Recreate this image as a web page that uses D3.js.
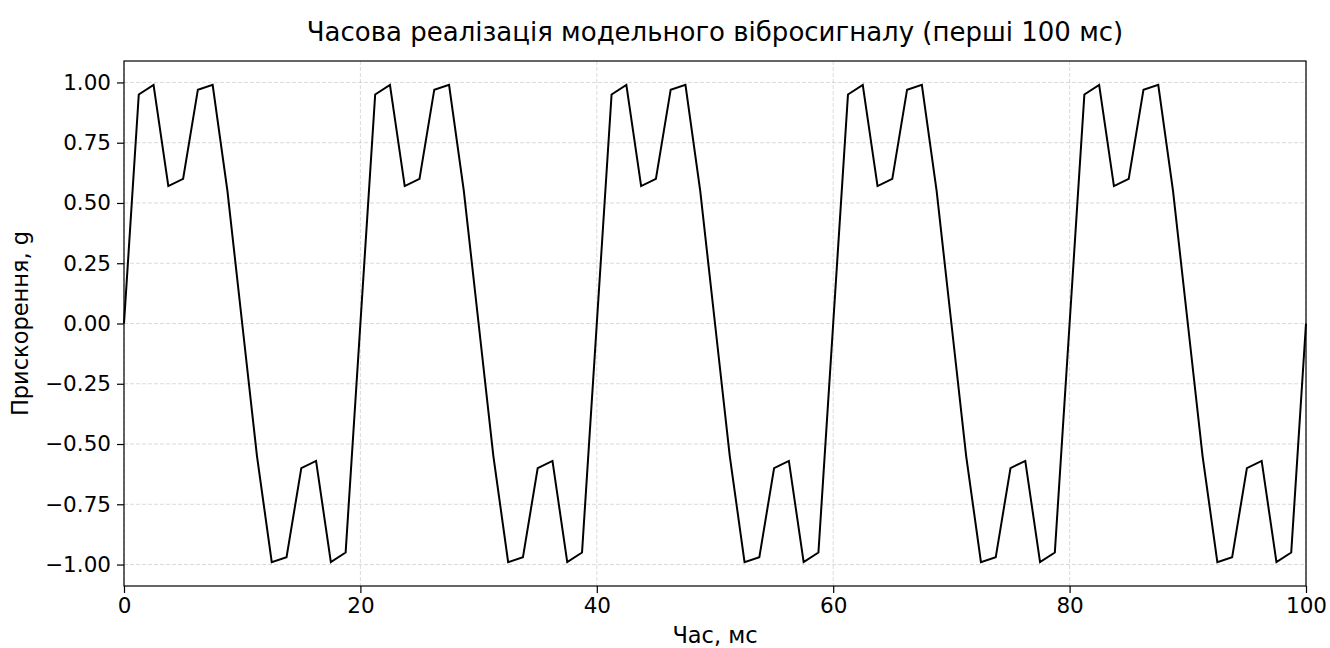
<!DOCTYPE html>
<html lang="uk">
<head>
  <meta charset="UTF-8">
  <title>Часова реалізація модельного вібросигналу</title>
  <script src="https://cdn.jsdelivr.net/npm/d3@7.8.5/dist/d3.min.js"></script>
  <style>
    body { margin: 0; background: #fff; font-family: 'DejaVu Sans', sans-serif; }
    svg text { fill: #000; }
  </style>
</head>
<body>
  <svg id="chart"></svg>
  <script>
    // sample times, ms
    const timeMs = [
      0, 1.25, 2.5, 3.75, 5, 6.25, 7.5, 8.75, 10, 11.25, 12.5, 13.75, 15, 16.25, 17.5, 18.75,
      20, 21.25, 22.5, 23.75, 25, 26.25, 27.5, 28.75, 30, 31.25, 32.5, 33.75, 35, 36.25, 37.5, 38.75,
      40, 41.25, 42.5, 43.75, 45, 46.25, 47.5, 48.75, 50, 51.25, 52.5, 53.75, 55, 56.25, 57.5, 58.75,
      60, 61.25, 62.5, 63.75, 65, 66.25, 67.5, 68.75, 70, 71.25, 72.5, 73.75, 75, 76.25, 77.5, 78.75,
      80, 81.25, 82.5, 83.75, 85, 86.25, 87.5, 88.75, 90, 91.25, 92.5, 93.75, 95, 96.25, 97.5, 98.75,
      100
    ];
    // acceleration, g
    const accelG = [
      0, 0.95, 0.99, 0.57, 0.60, 0.97, 0.99, 0.55, 0, -0.55, -0.99, -0.97, -0.60, -0.57, -0.99, -0.95,
      0, 0.95, 0.99, 0.57, 0.60, 0.97, 0.99, 0.55, 0, -0.55, -0.99, -0.97, -0.60, -0.57, -0.99, -0.95,
      0, 0.95, 0.99, 0.57, 0.60, 0.97, 0.99, 0.55, 0, -0.55, -0.99, -0.97, -0.60, -0.57, -0.99, -0.95,
      0, 0.95, 0.99, 0.57, 0.60, 0.97, 0.99, 0.55, 0, -0.55, -0.99, -0.97, -0.60, -0.57, -0.99, -0.95,
      0, 0.95, 0.99, 0.57, 0.60, 0.97, 0.99, 0.55, 0, -0.55, -0.99, -0.97, -0.60, -0.57, -0.99, -0.95,
      0
    ];
    const xTicks = [0, 20, 40, 60, 80, 100];
    const yTicks = [-1.0, -0.75, -0.5, -0.25, 0, 0.25, 0.5, 0.75, 1.0];

    const width = 1330, height = 648;
    const margin = { top: 61, right: 24, bottom: 62, left: 124 };
    const w = width - margin.left - margin.right;
    const h = height - margin.top - margin.bottom;

    const svg = d3.select("#chart").attr("width", width).attr("height", height);
    const g = svg.append("g").attr("transform", `translate(${margin.left},${margin.top})`);

    const x = d3.scaleLinear().domain([0, 100]).range([0, w]);
    const y = d3.scaleLinear().domain([-1.089, 1.089]).range([h, 0]);

    const fmtY = v => d3.format(".2f")(v).replace("-", "\u2212");

    // grid
    g.append("g").selectAll("line").data(xTicks).enter().append("line")
      .attr("x1", d => x(d)).attr("x2", d => x(d)).attr("y1", 0).attr("y2", h)
      .attr("stroke", "#b0b0b0").attr("stroke-opacity", 0.6)
      .attr("stroke-width", 0.8).attr("stroke-dasharray", "4,2");
    g.append("g").selectAll("line").data(yTicks).enter().append("line")
      .attr("x1", 0).attr("x2", w).attr("y1", d => y(d)).attr("y2", d => y(d))
      .attr("stroke", "#b0b0b0").attr("stroke-opacity", 0.6)
      .attr("stroke-width", 0.8).attr("stroke-dasharray", "4,2");

    // signal
    const line = d3.line().x((d, i) => x(timeMs[i])).y(d => y(d));
    g.append("path").datum(accelG)
      .attr("d", line)
      .attr("fill", "none")
      .attr("stroke", "#000")
      .attr("stroke-width", 2)
      .attr("stroke-linejoin", "miter");

    // axes
    const xAxis = g.append("g").attr("transform", `translate(0,${h})`)
      .call(d3.axisBottom(x).tickValues(xTicks).tickSize(7).tickPadding(5).tickFormat(d3.format("d")));
    const yAxis = g.append("g")
      .call(d3.axisLeft(y).tickValues(yTicks).tickSize(7).tickPadding(6).tickFormat(fmtY));
    [xAxis, yAxis].forEach(a => {
      a.select(".domain").remove();
      a.selectAll("line").attr("stroke", "#000").attr("stroke-width", 1.2);
      a.selectAll("text").attr("font-family", "DejaVu Sans").attr("font-size", 21.5).attr("fill", "#000");
    });

    // frame
    g.append("rect").attr("width", w).attr("height", h)
      .attr("fill", "none").attr("stroke", "#000").attr("stroke-width", 1.2);

    // labels
    svg.append("text")
      .attr("x", margin.left + w / 2).attr("y", 41)
      .attr("text-anchor", "middle")
      .attr("font-size", 26)
      .text("Часова реалізація модельного вібросигналу (перші 100 мс)");
    svg.append("text")
      .attr("x", margin.left + w / 2).attr("y", 643)
      .attr("text-anchor", "middle")
      .attr("font-size", 22.5)
      .text("Час, мс");
    svg.append("text")
      .attr("transform", `translate(28,${margin.top + h / 2}) rotate(-90)`)
      .attr("text-anchor", "middle")
      .attr("font-size", 22.5)
      .text("Прискорення, g");
  </script>
</body>
</html>
